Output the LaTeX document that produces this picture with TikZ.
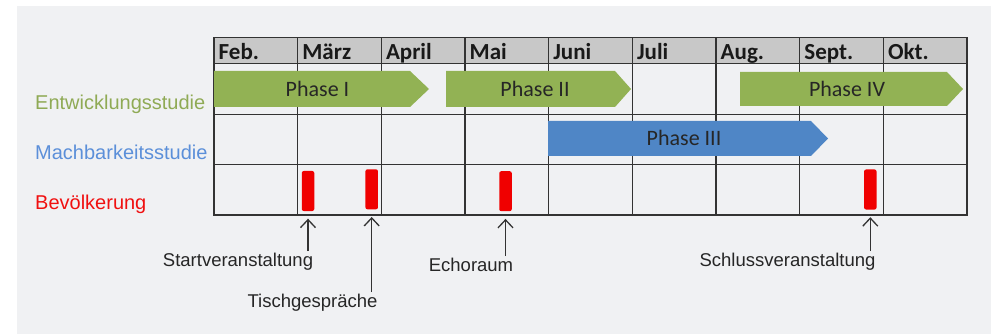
\documentclass[tikz,border=0pt]{standalone}
\usepackage{fontspec}
\setmainfont{Liberation Sans}
\newfontfamily\calibri{Carlito}
\usetikzlibrary{arrows.meta}

\definecolor{bg_col}{RGB}{240,241,243}
\definecolor{head_col}{RGB}{200,200,200}
\definecolor{phase_green}{RGB}{146,178,84}
\definecolor{phase_blue}{RGB}{79,134,198}
\definecolor{lbl_green}{RGB}{143,170,85}
\definecolor{lbl_blue}{RGB}{91,143,217}
\definecolor{lbl_red}{RGB}{240,16,16}
\definecolor{evt_red}{RGB}{240,0,0}

\begin{document}
\begin{tikzpicture}[x=1pt,y=-1pt]
  \tikzset{
    month/.style={anchor=base west, inner sep=0pt, font=\calibri\bfseries\fontsize{23}{23}\selectfont, text=black!90},
    phase_txt/.style={anchor=base, inner sep=0pt, font=\calibri\fontsize{22}{22}\selectfont, text=black!85},
    row_lbl/.style={anchor=base west, inner sep=0pt, font=\fontsize{20}{20}\selectfont},
    evt/.style={fill=evt_red, rounded corners=2pt, minimum width=12.5pt, minimum height=40pt, inner sep=0pt},
    evt_lbl/.style={anchor=north, inner sep=2pt, font=\fontsize{18.5}{19}\selectfont, text=black!85},
    evt_arrow/.style={-{Straight Barb[length=8pt,width=15pt]}, line width=1.3pt, black!80, shorten >=7.5pt},
    grid_line/.style={line width=1.4pt, black!80},
  }

  % background
  \useasboundingbox (0,0) rectangle (991,334);
  \fill[bg_col] (17,6) rectangle (991,334);

  % table
  \fill[head_col] (214,37.5) rectangle (967,63.5);
  \foreach \y in {63.5,114.3,164.3}
    \draw[grid_line] (214,\y) -- (967,\y);
  \foreach \i in {1,...,8}
    \draw[grid_line] (214+\i*83.67,37.5) -- (214+\i*83.67,215);
  \draw[grid_line] (214,37.5) rectangle (967,215);

  % months
  \foreach \m [count=\i from 0] in {Feb.,März,April,Mai,Juni,Juli,Aug.,Sept.,Okt.}
    \node[month] (m\i) at (218.5+\i*83.67,59.3) {\m};

  % phases
  \fill[phase_green] (214,71) -- (410,71) -- (429,89) -- (410,107) -- (214,107) -- cycle;
  \node[phase_txt] (ph1) at (317.5,96.5) {Phase I};
  \fill[phase_green] (446,71) -- (615,71) -- (631,89) -- (615,107) -- (446,107) -- cycle;
  \node[phase_txt] (ph2) at (535,96.5) {Phase II};
  \fill[phase_blue] (548,121) -- (811,121) -- (828,138.5) -- (811,156) -- (548,156) -- cycle;
  \node[phase_txt] (ph3) at (684,146) {Phase III};
  \fill[phase_green] (740,72) -- (947,72) -- (963,89) -- (947,106) -- (740,106) -- cycle;
  \node[phase_txt] (ph4) at (847,96.5) {Phase IV};

  % rows
  \node[row_lbl, text=lbl_green] (r1) at (35,109.5) {Entwicklungsstudie};
  \node[row_lbl, text=lbl_blue] (r2) at (35,159.5) {Machbarkeitsstudie};
  \node[row_lbl, text=lbl_red] (r3) at (35,209.5) {Bevölkerung};

  % events
  \node[evt] (e1) at (308,191) {};
  \node[evt] (e2) at (371.7,189.3) {};
  \node[evt] (e3) at (505.5,191.2) {};
  \node[evt] (e4) at (870.3,189.5) {};

  \node[evt_lbl] (l1) at (238,251) {Startveranstaltung};
  \node[evt_lbl] (l2) at (312.5,292) {Tischgespräche};
  \node[evt_lbl] (l3) at (471,256) {Echoraum};
  \node[evt_lbl] (l4) at (787.5,251) {Schlussveranstaltung};

  \draw[evt_arrow] (l1.north -| e1.south) -- (e1.south);
  \draw[evt_arrow] (l2.north -| e2.south) -- (e2.south);
  \draw[evt_arrow] (l3.north -| e3.south) -- (e3.south);
  \draw[evt_arrow] (l4.north -| e4.south) -- (e4.south);
\end{tikzpicture}
\end{document}
